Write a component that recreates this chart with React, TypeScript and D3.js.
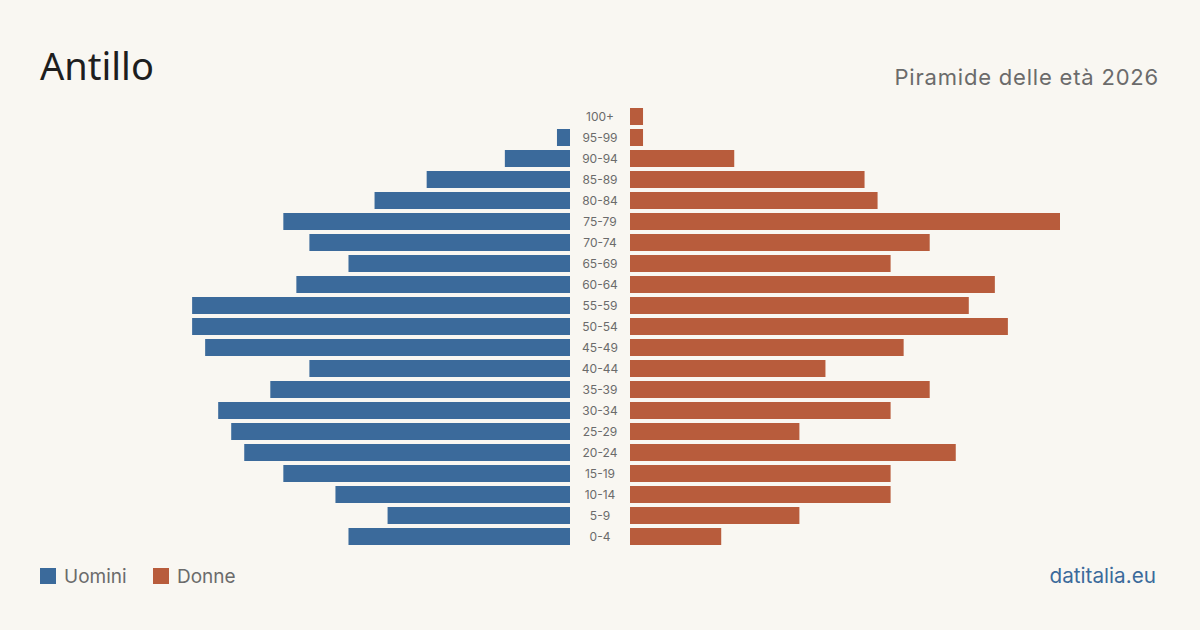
import React from "react";
import * as d3 from "d3";

const ageGroups = [
  "100+", "95-99", "90-94", "85-89", "80-84", "75-79", "70-74", "65-69",
  "60-64", "55-59", "50-54", "45-49", "40-44", "35-39", "30-34", "25-29",
  "20-24", "15-19", "10-14", "5-9", "0-4",
];
const maleValues = [0, 1, 5, 11, 15, 22, 20, 17, 21, 29, 29, 28, 20, 23, 27, 26, 25, 22, 18, 14, 17];
const femaleValues = [1, 1, 8, 18, 19, 33, 23, 20, 28, 26, 29, 21, 15, 23, 20, 13, 25, 20, 20, 13, 7];
const legendItems = ["Uomini", "Donne"];

const W = 1200;
const H = 630;
const BG = "#f9f7f2";
const MALE = "#3b6a9b";
const FEMALE = "#b85c3c";
const FONT = "Inter, 'Noto Sans', sans-serif";

export default function App() {
  const maxVal = d3.max([...maleValues, ...femaleValues]) as number;
  const y = d3
    .scaleBand<string>()
    .domain(ageGroups)
    .range([106, 547])
    .paddingInner(4 / 21)
    .paddingOuter(2 / 21);
  const len = d3.scaleLinear().domain([0, maxVal]).range([0, 430]);
  const maleRight = 570;
  const femaleLeft = 630;
  const colors = [MALE, FEMALE];

  return (
    <svg width={W} height={H} style={{ display: "block", position: "absolute", left: 0, top: 0 }}>
      <rect width={W} height={H} fill={BG} />
      <text x={40} y={80} fontFamily="'Noto Sans', Inter, sans-serif" fontSize={38} fill="#1e1e1e">Antillo</text>
      <text x={1159} y={85} textAnchor="end" fontFamily={FONT} fontSize={22} letterSpacing={0.8} fill="#6b6b6b">Piramide delle età 2026</text>
      {ageGroups.map((g, i) => (
        <g key={g}>
          {maleValues[i] > 0 && (
            <rect x={maleRight - len(maleValues[i])} y={y(g)} width={len(maleValues[i])} height={y.bandwidth()} fill={MALE} />
          )}
          {femaleValues[i] > 0 && (
            <rect x={femaleLeft} y={y(g)} width={len(femaleValues[i])} height={y.bandwidth()} fill={FEMALE} />
          )}
          <text x={600} y={(y(g) as number) + y.bandwidth() / 2} dy="0.35em" textAnchor="middle" fontFamily={FONT} fontSize={12} fill="#6b6b6b">{g}</text>
        </g>
      ))}
      {legendItems.map((name, i) => {
        const x0 = i === 0 ? 40 : 153;
        return (
          <g key={name}>
            <rect x={x0} y={568} width={16} height={16} fill={colors[i]} />
            <text x={x0 + 24} y={583} fontFamily={FONT} fontSize={19} fill="#6b6b6b">{name}</text>
          </g>
        );
      })}
      <text x={1156} y={583} textAnchor="end" fontFamily={FONT} fontSize={20.7} fill={MALE}>datitalia.eu</text>
    </svg>
  );
}
